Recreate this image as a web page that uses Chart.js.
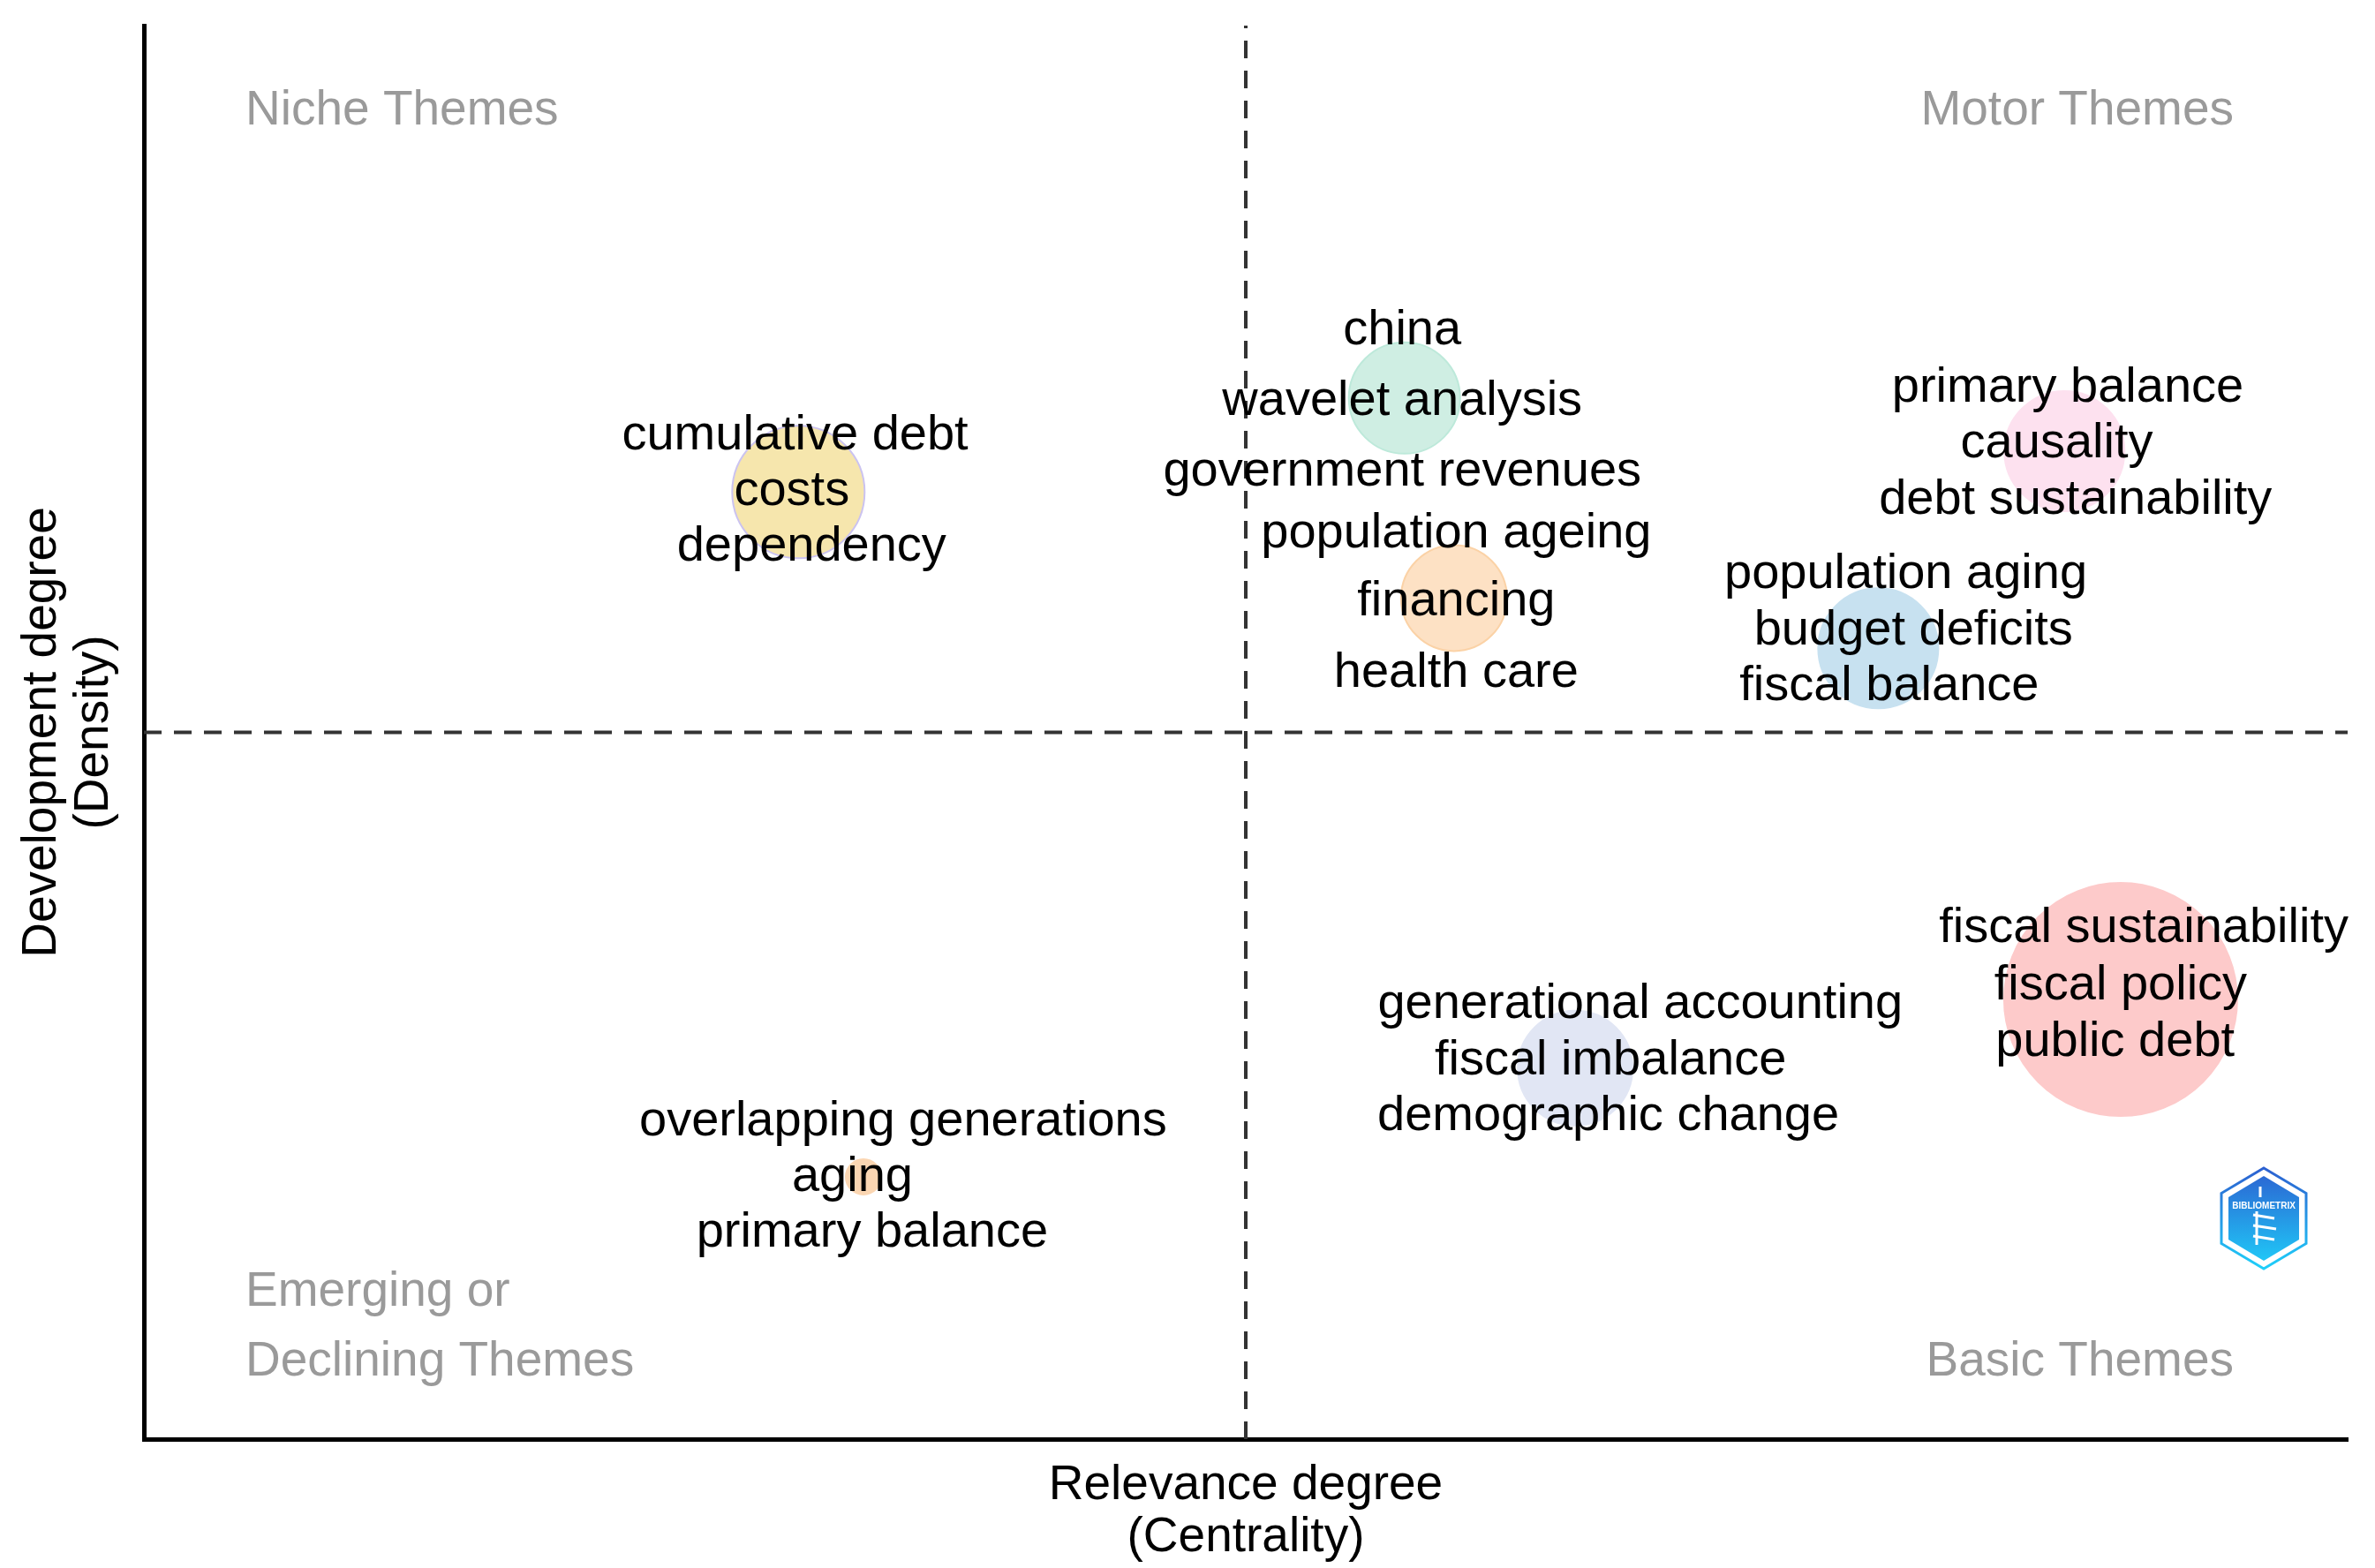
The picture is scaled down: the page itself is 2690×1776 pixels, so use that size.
<!DOCTYPE html>
<html>
<head>
<meta charset="utf-8">
<script src="https://cdn.jsdelivr.net/npm/chart.js@4.4.1/dist/chart.umd.min.js"></script>
<style>
html,body{margin:0;padding:0;background:#fff}
</style>
</head>
<body>
<canvas id="map" width="2690" height="1776"></canvas>
<script>
// clusters of the thematic map (one bubble each)
const themes = ['costs','wavelet analysis','financing','causality','budget deficits','fiscal imbalance','fiscal policy','aging']
const centrality = [-0.406, 0.144, 0.189, 0.743, 0.574, 0.299, 0.794, -0.347]
const density = [0.340, 0.473, 0.190, 0.398, 0.119, -0.475, -0.378, -0.629]
const bubbleRadius = [75, 63, 60, 68, 68, 65, 132, 20]
const fills = ['#f6e6ad','#cfeee3','#fde1c4','#fde1ef','#c7e1f0','#e1e6f4','#fdcaca','#fbd6b2']
const strokes = ['#cbc3f0','#bde9da','#fbd2a6','#fde1ef','#c7e1f0','#e1e6f4','#fdcaca','#fbd6b2']

// keyword labels (placed like ggrepel did)
const labelWords = ['cumulative debt','costs','dependency','china','wavelet analysis','government revenues',
  'population ageing','financing','health care','primary balance','causality','debt sustainability',
  'population aging','budget deficits','fiscal balance','generational accounting','fiscal imbalance','demographic change',
  'fiscal sustainability','fiscal policy','public debt','overlapping generations','aging','primary balance']
const labelX = [-0.409,-0.412,-0.394, 0.142,0.142,0.142, 0.191,0.191,0.191, 0.746,0.736,0.753,
  0.599,0.606,0.584, 0.358,0.331,0.329, 0.815,0.794,0.789, -0.311,-0.357,-0.339]
const labelY = [0.425,0.346,0.267, 0.573,0.473,0.374, 0.286,0.190,0.089, 0.492,0.413,0.333,
  0.228,0.149,0.070, -0.380,-0.460,-0.539, -0.273,-0.353,-0.434, -0.546,-0.625,-0.704]

const FONT = '"Liberation Sans", Arial, Helvetica, sans-serif'

const quadLines = {
    id:'quadLines',
    beforeDatasetsDraw(chart){
        const {ctx, chartArea:a, scales:{x,y}} = chart
        const px = x.getPixelForValue(0), py = y.getPixelForValue(0)
        ctx.save()
        ctx.strokeStyle = '#333333'
        ctx.lineWidth = 4
        ctx.setLineDash([20,14])
        ctx.beginPath()
        ctx.moveTo(px, a.bottom); ctx.lineTo(px, a.top)
        ctx.moveTo(a.left, py); ctx.lineTo(a.right, py)
        ctx.stroke()
        ctx.restore()
    }
}

const quadNames = {
    id:'quadNames',
    beforeDatasetsDraw(chart){
        const {ctx, chartArea:a} = chart
        ctx.save()
        ctx.fillStyle = '#9a9a9a'
        ctx.font = '55px ' + FONT
        ctx.textBaseline = 'middle'
        ctx.textAlign = 'left'
        ctx.fillText('Niche Themes', a.left+115, a.top+97)
        ctx.fillText('Emerging or', a.left+115, a.bottom-166)
        ctx.fillText('Declining Themes', a.left+115, a.bottom-87)
        ctx.textAlign = 'right'
        ctx.fillText('Motor Themes', a.right-129, a.top+97)
        ctx.fillText('Basic Themes', a.right-129, a.bottom-87)
        ctx.restore()
    }
}

const wordLabels = {
    id:'wordLabels',
    afterDatasetsDraw(chart){
        const {ctx, scales:{x,y}} = chart
        ctx.save()
        ctx.fillStyle = '#000'
        ctx.font = '56px ' + FONT
        ctx.textAlign = 'center'
        ctx.textBaseline = 'middle'
        labelWords.forEach((w,i)=>{
            ctx.fillText(w, x.getPixelForValue(labelX[i]), y.getPixelForValue(labelY[i]) + 4)
        })
        ctx.restore()
    }
}

// small bibliometrix badge in the lower right corner
const logo = {
    id:'logo',
    afterDraw(chart){
        const {ctx, chartArea:a} = chart
        const cx = a.right-95, cy = a.bottom-250
        const hex = (w,h)=>{
            ctx.beginPath()
            ctx.moveTo(cx, cy-h)
            ctx.lineTo(cx+w, cy-h/2)
            ctx.lineTo(cx+w, cy+h/2)
            ctx.lineTo(cx, cy+h)
            ctx.lineTo(cx-w, cy+h/2)
            ctx.lineTo(cx-w, cy-h/2)
            ctx.closePath()
        }
        const g = ctx.createLinearGradient(0, cy-58, 0, cy+58)
        g.addColorStop(0,'#2c5fd0')
        g.addColorStop(1,'#1fd0fa')
        ctx.save()
        hex(48,57)
        ctx.strokeStyle = g
        ctx.lineWidth = 3
        ctx.stroke()
        hex(40,48)
        ctx.fillStyle = g
        ctx.fill()
        ctx.fillStyle = '#ffffff'
        ctx.font = 'bold 10px ' + FONT
        ctx.textAlign = 'center'
        ctx.textBaseline = 'middle'
        ctx.fillText('BIBLIOMETRIX', cx, cy-14)
        ctx.strokeStyle = '#ffffff'
        ctx.lineWidth = 3
        ctx.beginPath()
        ctx.moveTo(cx-4, cy-36); ctx.lineTo(cx-4, cy-24)
        ctx.moveTo(cx-12, cy-4); ctx.lineTo(cx+12, cy)
        ctx.moveTo(cx-12, cy+8); ctx.lineTo(cx+14, cy+12)
        ctx.moveTo(cx-12, cy+20); ctx.lineTo(cx+12, cy+24)
        ctx.moveTo(cx-8, cy-8); ctx.lineTo(cx-8, cy+30)
        ctx.stroke()
        ctx.restore()
    }
}

const ctx = document.getElementById('map')

new Chart(ctx, {
    type:'bubble',
    data:{
        datasets:[{
            label:'clusters',
            data: themes.map((t,i)=>({x:centrality[i], y:density[i], r:bubbleRadius[i]})),
            backgroundColor: fills,
            borderColor: strokes,
            borderWidth: 2
        }]
    },
    options:{
        responsive:false,
        animation:false,
        devicePixelRatio:1,
        layout:{autoPadding:false, padding:{top:29, right:31, bottom:0, left:0}},
        plugins:{legend:{display:false}, tooltip:{enabled:false}},
        scales:{
            x:{
                type:'linear', min:-1, max:1,
                grid:{display:false},
                ticks:{display:false},
                border:{display:true, color:'#000', width:5},
                title:{display:true, text:['Relevance degree','(Centrality)'], color:'#000',
                    font:{size:55, family:FONT, lineHeight:1.08}, padding:{top:0, bottom:4}},
                afterFit(s){ s.height = 146 }
            },
            y:{
                type:'linear', min:-1, max:1,
                grid:{display:false},
                ticks:{display:false},
                border:{display:true, color:'#000', width:5},
                title:{display:true, text:['Development degree','(Density)'], color:'#000',
                    font:{size:55, family:FONT, lineHeight:1.08}, padding:{top:18, bottom:0}},
                afterFit(s){ s.width = 163 }
            }
        }
    },
    plugins:[quadLines, quadNames, wordLabels, logo]
})
</script>
</body>
</html>
